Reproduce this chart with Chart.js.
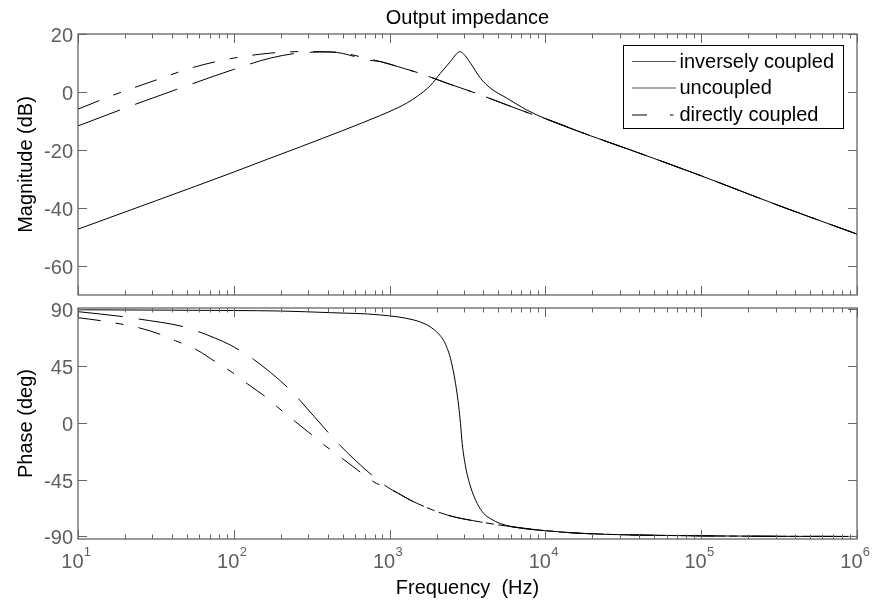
<!DOCTYPE html>
<html>
<head>
<meta charset="utf-8">
<title>Output impedance</title>
<script src="https://cdn.jsdelivr.net/npm/chart.js@4.4.1/dist/chart.umd.min.js"></script>
<style>
  html, body { margin: 0; padding: 0; background: #fff; }
  #wrap { position: relative; width: 875px; height: 603px; overflow: hidden; background: #fff; }
  canvas { position: absolute; left: 0; }
</style>
</head>
<body>
<div id="wrap">
  <canvas id="mag" width="875" height="300" style="top:0;width:875px;height:300px"></canvas>
  <canvas id="phase" width="875" height="303" style="top:300px;width:875px;height:303px"></canvas>
</div>
<script>
// ---------- Magnitude (dB) ----------
const magFreqInverse = [10, 32, 100, 164, 268, 500, 871, 1122, 1300, 1503, 1832, 2123, 2455, 2716, 2825, 2972, 3311, 3837, 4446, 5689, 7586];
const magInverse     = [-47.3, -37.4, -27.6, -23.2, -18.9, -13.3, -8.1, -5.5, -3.7, -1.5, 2.3, 6.5, 10.5, 13.4, 13.9, 13.2, 9.9, 4.7, 1.3, -2.2, -6.2];

const magFreqUncoupled = [10, 18.6, 43, 100, 172, 282, 417, 753];
const magUncoupled     = [-11.7, -6.2, 0.9, 7.8, 11.7, 13.6, 13.8, 10.9];

const magFreqDirect = [10, 17, 32, 55, 100, 172, 280, 457, 753];
const magDirect     = [-5.9, -1.0, 4.2, 8.5, 11.7, 13.4, 13.95, 13.7, 11.3];

// uncoupled and directly coupled coincide above ~800 Hz
const magFreqMid = [871, 1122, 1550, 2344, 3656, 5689, 8433];
const magMid     = [10.5, 8.8, 6.5, 3.0, -0.6, -4.5, -7.9];

// all three curves coincide above ~10 kHz
const magFreqTail = [10233, 19500, 35240, 100000, 309000, 1000000];
const magTail     = [-9.4, -15.1, -20.0, -28.9, -39.0, -49.0];

// ---------- Phase (deg) ----------
const phFreqInverse = [10, 100, 200, 417, 871, 1432, 1746, 1900, 2100, 2228, 2344, 2460, 2649, 2780, 2851, 2924, 3076, 3311, 3656, 4027, 4446, 5152, 7278];
const phInverse     = [89.6, 89.0, 88.6, 87.3, 85.5, 81.5, 77.5, 74.5, 69.5, 65, 59, 51, 31.3, 12.7, -0.5, -16.3, -34.9, -50.8, -64, -71.9, -75.9, -79.8, -83.8];

const phFreqUncoupled = [10, 19.6, 24.5, 47.6, 59.6, 95, 110, 134, 225, 265, 413, 484, 793, 966];
const phUncoupled     = [88.1, 84.1, 82.3, 76.2, 72.2, 61.7, 57.1, 50.3, 27.3, 18, -9, -18.2, -42.8, -50.8];

const phFreqDirect = [10, 13.9, 24.5, 33.8, 42.2, 58.1, 76.2, 97.7, 122, 160, 190, 208, 249, 323, 387, 422, 508, 661, 793, 883];
const phDirect     = [83.3, 81, 75.4, 70.1, 65.1, 57.7, 48.4, 40, 31, 20.6, 12.7, 8.7, 0.8, -10.3, -18.2, -21.7, -29.1, -39.7, -46.8, -49.7];

const phFreqMid = [1122, 1361, 2344, 3837, 6266];
const phMid     = [-55.4, -61.3, -73, -78.5, -82.5];

const phFreqTail = [10233, 16830, 100000, 1000000];
const phTail     = [-85.5, -87.5, -89.5, -90];

// ---------- Axes and labels ----------
const seriesNames = ['inversely coupled', 'uncoupled', 'directly coupled'];
const freqDecades = [1, 2, 3, 4, 5, 6];          // x tick labels 10^n
const magTicks    = [20, 0, -20, -40, -60];
const phaseTicks  = [90, 45, 0, -45, -90];
const chartTitle  = 'Output impedance';
const magLabel    = 'Magnitude (dB)';
const phaseLabel  = 'Phase (deg)';
const freqLabel   = 'Frequency  (Hz)';

// ---------- Drawing ----------
const FONT = '"Liberation Sans", Arial, Helvetica, sans-serif';
const AXIS_COLOR = '#666666';
const TICK_TEXT = '#5e5e5e';
const DASH = [45, 16];
const DASH_DOT = [23, 15, 8, 15];

function pts(fs, vs) { return fs.map((f, i) => ({ x: f, y: vs[i] })); }

function dataset(label, data, dash) {
  return {
    label, data,
    borderColor: '#000', borderWidth: 1, borderDash: dash,
    pointRadius: 0, fill: false, cubicInterpolationMode: 'monotone'
  };
}

function seg(ctx, x1, y1, x2, y2) { ctx.beginPath(); ctx.moveTo(x1, y1); ctx.lineTo(x2, y2); ctx.stroke(); }

function frame(chart, ticks) {
  const { ctx, chartArea: a, scales: { x, y } } = chart;
  ctx.save();
  ctx.strokeStyle = AXIS_COLOR;
  ctx.lineWidth = 1.3;
  ctx.setLineDash([]);
  ctx.strokeRect(a.left, a.top, a.right - a.left, a.bottom - a.top);
  ctx.lineWidth = 1;
  // inward ticks on all four sides
  for (const e of freqDecades) {
    for (let m = 1; m <= 9; m++) {
      const v = m * Math.pow(10, e);
      if (v > 1e6 || (m > 1 && e === 6)) break;
      const px = Math.round(x.getPixelForValue(v)) + 0.5;
      const len = m === 1 ? 9 : 4.5;
      seg(ctx, px, a.bottom, px, a.bottom - len);
      seg(ctx, px, a.top, px, a.top + len);
    }
  }
  ctx.fillStyle = TICK_TEXT;
  ctx.font = '20px ' + FONT;
  ctx.textAlign = 'right';
  ctx.textBaseline = 'alphabetic';
  for (const t of ticks) {
    const py = Math.round(y.getPixelForValue(t)) + 0.5;
    seg(ctx, a.left, py, a.left + 9, py);
    seg(ctx, a.right, py, a.right - 9, py);
    ctx.fillText(String(t), a.left - 5, py + 7);
  }
  ctx.restore();
}

function yTitle(chart, text) {
  const { ctx, chartArea: a } = chart;
  ctx.save();
  ctx.fillStyle = '#000';
  ctx.font = '20px ' + FONT;
  ctx.textAlign = 'center';
  ctx.textBaseline = 'alphabetic';
  ctx.translate(32, (a.top + a.bottom) / 2);
  ctx.rotate(-Math.PI / 2);
  ctx.fillText(text, 0, 0);
  ctx.restore();
}

const magPlugin = {
  id: 'magDecor',
  afterDraw(chart) {
    const { ctx, chartArea: a } = chart;
    frame(chart, magTicks);
    yTitle(chart, magLabel);
    ctx.save();
    ctx.fillStyle = '#000';
    ctx.font = '20px ' + FONT;
    ctx.textAlign = 'center';
    ctx.fillText(chartTitle, (a.left + a.right) / 2, 24);
    // legend
    ctx.fillStyle = '#fff';
    ctx.fillRect(623, 45, 221, 84);
    ctx.strokeStyle = '#000';
    ctx.lineWidth = 1;
    ctx.strokeRect(623.5, 45.5, 220, 83);
    const rows = [61.5, 88, 114.5];
    ctx.textAlign = 'left';
    ctx.fillStyle = '#000';
    rows.forEach((ry, i) => {
      if (i < 2) {
        ctx.strokeStyle = '#555';
        seg(ctx, 632, ry, 676, ry);
      } else {
        ctx.strokeStyle = '#000';
        seg(ctx, 632, ry + 0.5, 647, ry + 0.5);
        seg(ctx, 670, ry + 0.5, 673.5, ry + 0.5);
      }
      ctx.fillText(seriesNames[i], 679.5, ry + 6);
    });
    ctx.restore();
  }
};

const phasePlugin = {
  id: 'phaseDecor',
  afterDraw(chart) {
    const { ctx, chartArea: a, scales: { x } } = chart;
    frame(chart, phaseTicks);
    yTitle(chart, phaseLabel);
    ctx.save();
    ctx.textBaseline = 'alphabetic';
    ctx.textAlign = 'left';
    ctx.fillStyle = TICK_TEXT;
    for (const e of freqDecades) {
      const px = x.getPixelForValue(Math.pow(10, e));
      ctx.font = '20px ' + FONT;
      const left = px - 16.7;
      ctx.fillText('10', left, a.bottom + 29);
      const w = ctx.measureText('10').width;
      ctx.font = '13px ' + FONT;
      ctx.fillText(String(e), left + w + 0.3, a.bottom + 17);
    }
    ctx.fillStyle = '#000';
    ctx.font = '20px ' + FONT;
    ctx.textAlign = 'center';
    ctx.fillText(freqLabel, (a.left + a.right) / 2, a.bottom + 55);
    ctx.restore();
  }
};

function baseOptions(yMin, yMax, xAxisHeight, padTop) {
  return {
    responsive: false,
    animation: false,
    devicePixelRatio: 1,
    layout: { padding: { left: 0, right: 18, top: padTop, bottom: 0 } },
    plugins: { legend: { display: false }, tooltip: { enabled: false }, title: { display: false } },
    scales: {
      x: {
        type: 'logarithmic', min: 10, max: 1e6,
        ticks: { display: false }, grid: { display: false }, border: { display: false },
        afterFit(s) { s.height = xAxisHeight; }
      },
      y: {
        type: 'linear', min: yMin, max: yMax,
        ticks: { display: false }, grid: { display: false }, border: { display: false },
        afterFit(s) { s.width = 78; }
      }
    }
  };
}

new Chart(document.getElementById('mag'), {
  type: 'line',
  data: {
    datasets: [
      dataset(seriesNames[0], pts(magFreqInverse, magInverse).concat(pts(magFreqTail, magTail)), []),
      dataset(seriesNames[1], pts(magFreqUncoupled, magUncoupled).concat(pts(magFreqMid, magMid), pts(magFreqTail, magTail)), DASH),
      dataset(seriesNames[2], pts(magFreqDirect, magDirect).concat(pts(magFreqMid, magMid), pts(magFreqTail, magTail)), DASH_DOT)
    ]
  },
  options: baseOptions(-70, 20, 5, 34),
  plugins: [magPlugin]
});

new Chart(document.getElementById('phase'), {
  type: 'line',
  data: {
    datasets: [
      dataset(seriesNames[0], pts(phFreqInverse, phInverse).concat(pts(phFreqTail, phTail)), []),
      dataset(seriesNames[1], pts(phFreqUncoupled, phUncoupled).concat(pts(phFreqMid, phMid), pts(phFreqTail, phTail)), DASH),
      dataset(seriesNames[2], pts(phFreqDirect, phDirect).concat(pts(phFreqMid, phMid), pts(phFreqTail, phTail)), DASH_DOT)
    ]
  },
  options: baseOptions(-92, 91, 64, 8),
  plugins: [phasePlugin]
});
</script>
</body>
</html>
